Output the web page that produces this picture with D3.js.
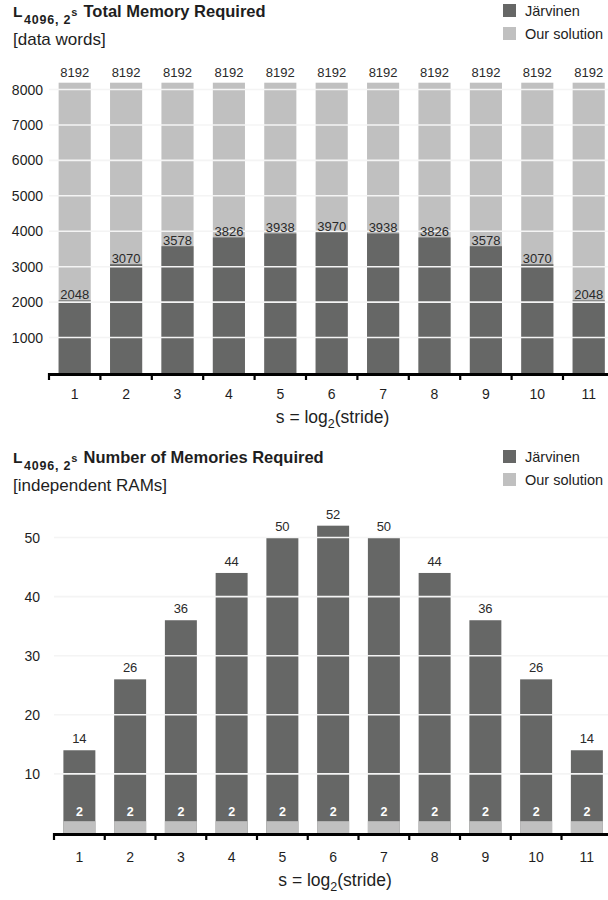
<!DOCTYPE html>
<html>
<head>
<meta charset="utf-8">
<script src="https://cdn.jsdelivr.net/npm/d3@7"></script>
<style>
  html, body { margin: 0; padding: 0; background: #fff; }
  svg { display: block; font-family: "Liberation Sans", Arial, Helvetica, sans-serif; }
</style>
</head>
<body>
<svg id="chart" width="608" height="900"></svg>
<script>
// Stride exponents s (stride = 2^s)
const strides = [1, 2, 3, 4, 5, 6, 7, 8, 9, 10, 11];

// Total memory required [data words]
const wordsJarvinen = [2048, 3070, 3578, 3826, 3938, 3970, 3938, 3826, 3578, 3070, 2048];
const wordsOurs = [8192, 8192, 8192, 8192, 8192, 8192, 8192, 8192, 8192, 8192, 8192];
const wordsTicks = [1000, 2000, 3000, 4000, 5000, 6000, 7000, 8000];

// Number of memories required [independent RAMs]
const ramsJarvinen = [14, 26, 36, 44, 50, 52, 50, 44, 36, 26, 14];
const ramsOurs = [2, 2, 2, 2, 2, 2, 2, 2, 2, 2, 2];
const ramsTicks = [10, 20, 30, 40, 50];

const seriesNames = ["Järvinen", "Our solution"];

const DARK = "#666766";
const LIGHT = "#c0c0c0";
const TEXT = "#1e1e1e";

const svg = d3.select("#chart");

function drawTitle(g, y, subtitle, heading) {
  const t = g.append("text")
    .attr("x", 13).attr("y", y)
    .attr("fill", TEXT).attr("font-weight", "bold");
  t.append("tspan").attr("font-size", 15.5).text("L");
  t.append("tspan").attr("font-size", 12.5).attr("dx", 1.5).attr("dy", 7)
    .attr("letter-spacing", 0.8).text("4096, 2");
  t.append("tspan").attr("font-size", 11).attr("dy", -8).text("s");
  t.append("tspan").attr("font-size", 16.5).attr("dx", 1.5).attr("dy", 1).text(" " + heading);
  g.append("text")
    .attr("x", 13).attr("y", y + 28)
    .attr("fill", TEXT).attr("font-size", 17)
    .text(subtitle);
}

function drawLegend(g, y) {
  const item = g.selectAll("g.legend").data(seriesNames).join("g")
    .attr("class", "legend")
    .attr("transform", (d, i) => `translate(503,${y + i * 23})`);
  item.append("rect")
    .attr("width", 13).attr("height", 13)
    .attr("fill", (d, i) => i === 0 ? DARK : LIGHT);
  item.append("text")
    .attr("x", 22).attr("y", 11.5)
    .attr("font-size", 14.5).attr("fill", TEXT)
    .text(d => d);
}

function drawXAxis(g, x, y0, labelY) {
  const step = x.step();
  const r0 = x.range()[0];
  // thick baseline
  g.append("line")
    .attr("x1", r0).attr("x2", 608)
    .attr("y1", y0 + 1.5).attr("y2", y0 + 1.5)
    .attr("stroke", "#000").attr("stroke-width", 3);
  // ticks at category boundaries
  g.selectAll("line.xtick").data(d3.range(strides.length + 1)).join("line")
    .attr("class", "xtick")
    .attr("x1", i => r0 + i * step).attr("x2", i => r0 + i * step)
    .attr("y1", y0).attr("y2", y0 + 7)
    .attr("stroke", "#000").attr("stroke-width", 2.2);
  g.selectAll("text.xlab").data(strides).join("text")
    .attr("class", "xlab")
    .attr("x", d => x(d) + x.bandwidth() / 2)
    .attr("y", labelY)
    .attr("text-anchor", "middle")
    .attr("font-size", 14).attr("fill", TEXT)
    .text(d => d);
  const t = g.append("text")
    .attr("x", (r0 + 608) / 2 + 4).attr("y", labelY + 24)
    .attr("text-anchor", "middle")
    .attr("font-size", 17.5).attr("fill", TEXT);
  t.append("tspan").text("s = log");
  t.append("tspan").attr("font-size", 12.5).attr("dy", 5).text("2");
  t.append("tspan").attr("dy", -5).text("(stride)");
}

function drawGrid(g, x, y, ticks, labelRight) {
  g.selectAll("line.grid").data(ticks).join("line")
    .attr("class", "grid")
    .attr("x1", x.range()[0]).attr("x2", 608)
    .attr("y1", d => y(d)).attr("y2", d => y(d))
    .attr("stroke", "#f4f4f4").attr("stroke-width", 1.6);
  g.selectAll("text.ylab").data(ticks).join("text")
    .attr("class", "ylab")
    .attr("x", labelRight).attr("y", d => y(d))
    .attr("dy", "0.36em")
    .attr("text-anchor", "end")
    .attr("font-size", 14).attr("fill", TEXT)
    .text(d => d);
}

// ---------- Panel 1: total memory ----------
{
  const g = svg.append("g");
  const x = d3.scaleBand().domain(strides)
    .range([49, 49 + 51.4 * strides.length])
    .paddingInner(0.375).paddingOuter(0.1875);
  const y = d3.scaleLinear().domain([0, 8000]).range([373, 89.5]);

  drawTitle(g, 17, "[data words]", "Total Memory Required");
  drawLegend(g, 4);

  // "Our solution" behind, "Järvinen" in front
  g.selectAll("rect.ours").data(strides).join("rect")
    .attr("class", "ours")
    .attr("x", d => x(d)).attr("width", x.bandwidth())
    .attr("y", (d, i) => y(wordsOurs[i]))
    .attr("height", (d, i) => y(0) - y(wordsOurs[i]))
    .attr("fill", LIGHT);
  g.selectAll("rect.jarv").data(strides).join("rect")
    .attr("class", "jarv")
    .attr("x", d => x(d)).attr("width", x.bandwidth())
    .attr("y", (d, i) => y(wordsJarvinen[i]))
    .attr("height", (d, i) => y(0) - y(wordsJarvinen[i]))
    .attr("fill", DARK);

  drawGrid(g, x, y, wordsTicks, 43);

  g.selectAll("text.vOurs").data(strides).join("text")
    .attr("class", "vOurs")
    .attr("x", d => x(d) + x.bandwidth() / 2)
    .attr("y", (d, i) => y(wordsOurs[i]) - 6)
    .attr("text-anchor", "middle")
    .attr("font-size", 13).attr("fill", "#2a2a2a")
    .text((d, i) => wordsOurs[i]);
  g.selectAll("text.vJarv").data(strides).join("text")
    .attr("class", "vJarv")
    .attr("x", d => x(d) + x.bandwidth() / 2)
    .attr("y", (d, i) => y(wordsJarvinen[i]) - 1.5)
    .attr("text-anchor", "middle")
    .attr("font-size", 13).attr("fill", "#2a2a2a")
    .text((d, i) => wordsJarvinen[i]);

  drawXAxis(g, x, 373, 398.5);
}

// ---------- Panel 2: number of memories ----------
{
  const g = svg.append("g");
  const x = d3.scaleBand().domain(strides)
    .range([54, 54 + 50.75 * strides.length])
    .paddingInner(0.37).paddingOuter(0.185);
  const y = d3.scaleLinear().domain([0, 50]).range([833, 537.5]);

  drawTitle(g, 463, "[independent RAMs]", "Number of Memories Required");
  drawLegend(g, 450);

  g.selectAll("rect.jarv").data(strides).join("rect")
    .attr("class", "jarv")
    .attr("x", d => x(d)).attr("width", x.bandwidth())
    .attr("y", (d, i) => y(ramsJarvinen[i]))
    .attr("height", (d, i) => y(0) - y(ramsJarvinen[i]))
    .attr("fill", DARK);
  g.selectAll("rect.ours").data(strides).join("rect")
    .attr("class", "ours")
    .attr("x", d => x(d)).attr("width", x.bandwidth())
    .attr("y", (d, i) => y(ramsOurs[i]))
    .attr("height", (d, i) => y(0) - y(ramsOurs[i]))
    .attr("fill", LIGHT);

  drawGrid(g, x, y, ramsTicks, 40);

  g.selectAll("text.vJarv").data(strides).join("text")
    .attr("class", "vJarv")
    .attr("x", d => x(d) + x.bandwidth() / 2)
    .attr("y", (d, i) => y(ramsJarvinen[i]) - 7)
    .attr("text-anchor", "middle")
    .attr("font-size", 13).attr("fill", "#2a2a2a")
    .text((d, i) => ramsJarvinen[i]);
  g.selectAll("text.vOurs").data(strides).join("text")
    .attr("class", "vOurs")
    .attr("x", d => x(d) + x.bandwidth() / 2)
    .attr("y", (d, i) => y(ramsOurs[i]) - 5.5)
    .attr("text-anchor", "middle")
    .attr("font-size", 12.5).attr("font-weight", "bold").attr("fill", "#fff")
    .text((d, i) => ramsOurs[i]);

  drawXAxis(g, x, 833, 861.5);
}
</script>
</body>
</html>
